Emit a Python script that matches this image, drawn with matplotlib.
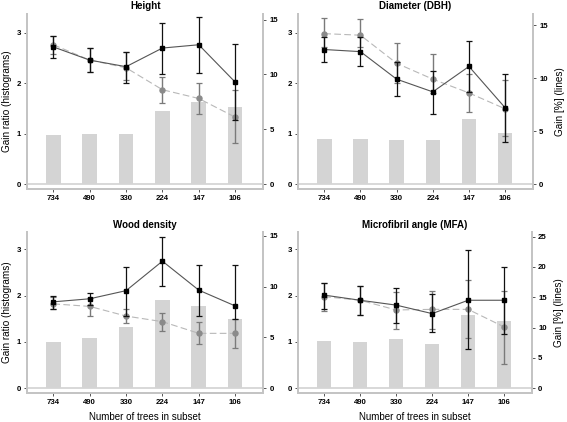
import numpy as np
import matplotlib
matplotlib.use("Agg")
import matplotlib.pyplot as plt

plt.rcParams['font.family'] = ['Liberation Sans', 'DejaVu Sans']

# number of trees in subset (x categories)
trees = ["734", "490", "330", "224", "147", "106"]

# gain ratio (histograms, left axis)
bars_height = [0.98, 0.99, 1.00, 1.45, 1.62, 1.52]
bars_dbh = [0.89, 0.89, 0.87, 0.87, 1.28, 1.02]
bars_wood = [1.00, 1.08, 1.33, 1.91, 1.78, 1.49]
bars_mfa = [1.01, 0.99, 1.06, 0.95, 1.58, 1.45]

# gain [%] (lines, right axis): value, lower, upper
blk_height = [12.5, 11.3, 10.7, 12.4, 12.7, 9.3]
blk_height_lo = [11.45, 10.2, 9.2, 10.0, 10.1, 5.8]
blk_height_hi = [13.5, 12.4, 12.0, 14.7, 15.2, 12.8]
gry_height = [12.7, 11.3, 10.6, 8.6, 7.8, 6.1]
gry_height_lo = [11.9, 10.2, 9.5, 7.4, 6.35, 3.7]
gry_height_hi = [13.5, 12.4, 12.0, 9.8, 9.2, 8.6]

blk_dbh = [12.7, 12.5, 9.9, 8.7, 11.1, 7.2]
blk_dbh_lo = [11.5, 11.1, 8.3, 6.6, 8.7, 4.0]
blk_dbh_hi = [13.9, 13.9, 11.5, 10.7, 13.5, 10.4]
gry_dbh = [14.2, 14.05, 11.4, 9.9, 8.6, 7.1]
gry_dbh_lo = [12.95, 12.95, 9.5, 8.6, 6.8, 4.5]
gry_dbh_hi = [15.7, 15.6, 13.3, 12.3, 10.4, 9.8]

blk_wood = [8.5, 8.8, 9.6, 12.5, 9.65, 8.1]
blk_wood_lo = [7.8, 8.2, 7.1, 10.1, 7.15, 6.8]
blk_wood_hi = [9.1, 9.4, 11.9, 14.9, 12.1, 12.15]
gry_wood = [8.3, 8.05, 7.1, 6.55, 5.4, 5.4]
gry_wood_lo = [7.8, 7.1, 6.4, 5.6, 4.35, 4.0]
gry_wood_hi = [9.0, 8.9, 7.8, 7.4, 6.55, 6.8]

blk_mfa = [15.35, 14.5, 13.7, 12.3, 14.5, 14.5]
blk_mfa_lo = [13.1, 12.0, 10.8, 9.3, 6.4, 9.0]
blk_mfa_hi = [17.3, 16.8, 16.6, 15.6, 22.7, 19.9]
gry_mfa = [15.1, 14.5, 12.9, 13.0, 13.0, 10.1]
gry_mfa_lo = [12.7, 12.0, 9.7, 9.8, 8.2, 4.0]
gry_mfa_hi = [17.3, 16.8, 15.9, 16.1, 17.9, 16.1]

panels = [
    ("Height", bars_height, blk_height, blk_height_lo, blk_height_hi,
     gry_height, gry_height_lo, gry_height_hi, 15.55, [0, 5, 10, 15]),
    ("Diameter (DBH)", bars_dbh, blk_dbh, blk_dbh_lo, blk_dbh_hi,
     gry_dbh, gry_dbh_lo, gry_dbh_hi, 16.1, [0, 5, 10, 15]),
    ("Wood density", bars_wood, blk_wood, blk_wood_lo, blk_wood_hi,
     gry_wood, gry_wood_lo, gry_wood_hi, 15.4, [0, 5, 10, 15]),
    ("Microfibril angle (MFA)", bars_mfa, blk_mfa, blk_mfa_lo, blk_mfa_hi,
     gry_mfa, gry_mfa_lo, gry_mfa_hi, 25.8, [0, 5, 10, 15, 20, 25]),
]

# axes rectangles in figure fraction
rects = [
    [0.048, 0.552, 0.416, 0.416],
    [0.526, 0.552, 0.414, 0.416],
    [0.048, 0.069, 0.416, 0.382],
    [0.526, 0.069, 0.412, 0.382],
]

fig = plt.figure(figsize=(5.67, 4.22), dpi=100)
spine_col = "#c4c4c4"
x = np.arange(len(trees))
left_top = 3.38
left_bot = -0.1

for i, (title, bars, b, blo, bhi, g, glo, ghi, rtop, rticks) in enumerate(panels):
    ax = fig.add_axes(rects[i])
    ax.bar(x, bars, width=0.4, color="#d4d4d4", zorder=1)
    ax.axhline(0, color="#d6d6d6", lw=1.3, zorder=0)
    ax.set_xlim(-0.72, 5.77)
    ax.set_ylim(left_bot, left_top)
    ax.set_yticks([0, 1, 2, 3])
    ax.set_xticks(x)
    ax.set_xticklabels(trees)
    ax.set_title(title, fontsize=7, fontweight="bold", pad=3)

    ax2 = ax.twinx()
    ax2.set_ylim(left_bot * rtop / left_top, rtop)
    ax2.set_yticks(rticks)

    g = np.array(g)
    b = np.array(b)
    ax2.errorbar(x, g, yerr=[g - np.array(glo), np.array(ghi) - g], fmt="none",
                 ecolor="#7a7a7a", elinewidth=1.0, capsize=2.4, capthick=0.9, zorder=2)
    ax2.plot(x, g, color="#b8b8b8", lw=0.8, dashes=(6, 3), zorder=2)
    ax2.plot(x, g, "o", color="#8a8a8a", ms=3.6, zorder=3)
    ax2.errorbar(x, b, yerr=[b - np.array(blo), np.array(bhi) - b], fmt="none",
                 ecolor="#111111", elinewidth=0.9, capsize=2.4, capthick=0.9, zorder=4)
    ax2.plot(x, b, "-", color="#555555", lw=0.8, zorder=4)
    ax2.plot(x, b, "s", color="#000000", ms=3.0, zorder=5)

    for a in (ax, ax2):
        a.spines["top"].set_visible(False)
        for s in ("left", "right", "bottom"):
            a.spines[s].set_color(spine_col)
            a.spines[s].set_linewidth(1.4)
        a.tick_params(length=2.5, width=0.7, color="#555555", labelsize=5.6, pad=2)
        for lab in a.get_yticklabels() + a.get_xticklabels():
            lab.set_fontweight("bold")

    if i % 2 == 0:
        ax.set_ylabel("Gain ratio (histograms)", fontsize=7.2, labelpad=3)
    else:
        ax2.set_ylabel("Gain [%] (lines)", fontsize=7.2, labelpad=5)
    if i >= 2:
        ax.set_xlabel("Number of trees in subset", fontsize=7, labelpad=4)

fig.savefig("out.png", dpi=100)
